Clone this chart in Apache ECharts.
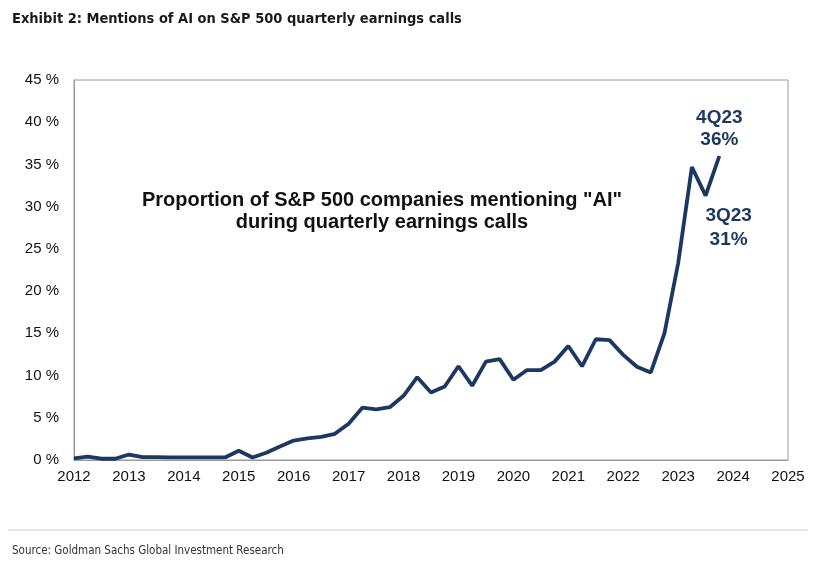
<!DOCTYPE html>
<html>
<head>
<meta charset="utf-8">
<script src="https://cdn.jsdelivr.net/npm/echarts@6/dist/echarts.min.js"></script>
<style>html,body{margin:0;padding:0;background:#fff}#c{width:818px;height:562px}</style>
</head>
<body>
<div id="c"></div>
<script>
const quarters = [
 '1Q12','2Q12','3Q12','4Q12','1Q13','2Q13','3Q13','4Q13','1Q14','2Q14','3Q14','4Q14',
 '1Q15','2Q15','3Q15','4Q15','1Q16','2Q16','3Q16','4Q16','1Q17','2Q17','3Q17','4Q17',
 '1Q18','2Q18','3Q18','4Q18','1Q19','2Q19','3Q19','4Q19','1Q20','2Q20','3Q20','4Q20',
 '1Q21','2Q21','3Q21','4Q21','1Q22','2Q22','3Q22','4Q22','1Q23','2Q23','3Q23','4Q23'
];
const mentionsPct = [
 0.2, 0.4, 0.15, 0.15,
 0.65, 0.35, 0.35, 0.3,
 0.3, 0.3, 0.3, 0.3,
 1.1, 0.3, 0.85, 1.6,
 2.3, 2.55, 2.75, 3.1,
 4.3, 6.2, 6.0, 6.25,
 7.6, 9.8, 8.0, 8.7,
 11.1, 8.8, 11.65, 11.95,
 9.5, 10.65, 10.65, 11.65,
 13.5, 11.1, 14.3, 14.2,
 12.45, 11.05, 10.35, 15.0,
 23.3, 34.7, 31.3, 36.0
];
const yearTicks = [2012,2013,2014,2015,2016,2017,2018,2019,2020,2021,2022,2023,2024,2025];
const yTicks = [0,5,10,15,20,25,30,35,40,45];
const annotText = ['Proportion of S&P 500 companies mentioning "AI"', 'during quarterly earnings calls'];
const callouts = [
  {q:'4Q23', text:'4Q23\n36%'},
  {q:'3Q23', text:'3Q23\n31%'}
];

function qToX(q){ return 2000 + parseInt(q.slice(2),10) + (parseInt(q[0],10)-1)/4; }
const seriesData = quarters.map((q,i)=>[qToX(q), mentionsPct[i]]);
const navy = '#1c3862';

const chart = echarts.init(document.getElementById('c'), null, {renderer:'canvas'});
chart.setOption({
  animation:false,
  backgroundColor:'#fff',
  title:[
    {text:'Exhibit 2: Mentions of AI on S&P 500 quarterly earnings calls', left:7, top:7,
     textStyle:{fontFamily:'"Liberation Sans Narrow","DejaVu Sans Condensed",Arial', fontWeight:'bold', fontSize:14.5, color:'#1a1a1a'}},
    {text:annotText.join('\n'), left:377, top:184, textAlign:'center',
     textStyle:{fontFamily:'"Liberation Sans",Arial', fontWeight:'bold', fontSize:20, lineHeight:22, color:'#111'}},
    {text:'Source: Goldman Sachs Global Investment Research', left:7, top:540,
     textStyle:{fontFamily:'"Liberation Sans Narrow","DejaVu Sans Condensed",Arial', fontWeight:'normal', fontSize:11.5, color:'#333'}}
  ],
  graphic:[
    {type:'line', shape:{x1:8,y1:530,x2:808,y2:530}, style:{stroke:'#d0d0d0', lineWidth:1}}
  ],
  grid:{left:74, right:30, top:80, bottom:102, show:true, borderColor:'#9a9a9a', borderWidth:1},
  xAxis:{type:'value', min:2012, max:2025, interval:1,
    axisLine:{show:true, lineStyle:{color:'#9a9a9a'}}, axisTick:{show:false}, splitLine:{show:false},
    axisLabel:{fontFamily:'"Liberation Sans",Arial', fontSize:15, color:'#111', margin:9,
      formatter:v=> yearTicks.includes(v) ? String(v) : ''}},
  yAxis:{type:'value', min:0, max:45, interval:5,
    axisLine:{show:true, lineStyle:{color:'#9a9a9a'}}, axisTick:{show:false}, splitLine:{show:false},
    axisLabel:{fontFamily:'"Liberation Sans",Arial', fontSize:15, color:'#111', margin:15,
      formatter:v=> yTicks.includes(v) ? v + ' %' : ''}},
  series:[{
    type:'line', data:seriesData, symbol:'none', lineStyle:{color:navy, width:3.8}, z:3,
    markPoint:{
      symbol:'circle', symbolSize:0,
      data:[
        {coord:seriesData[quarters.indexOf(callouts[0].q)], value:0,
         label:{show:true, formatter:callouts[0].text, position:'top', distance:5, align:'center',
           fontFamily:'"Liberation Sans",Arial', fontWeight:'bold', fontSize:19, lineHeight:22, color:navy}},
        {coord:seriesData[quarters.indexOf(callouts[1].q)], value:0,
         label:{show:true, formatter:callouts[1].text, position:'bottom', distance:8, offset:[23,0], align:'center',
           fontFamily:'"Liberation Sans",Arial', fontWeight:'bold', fontSize:19, lineHeight:24, color:navy}}
      ]
    }
  }]
});
</script>
</body>
</html>
